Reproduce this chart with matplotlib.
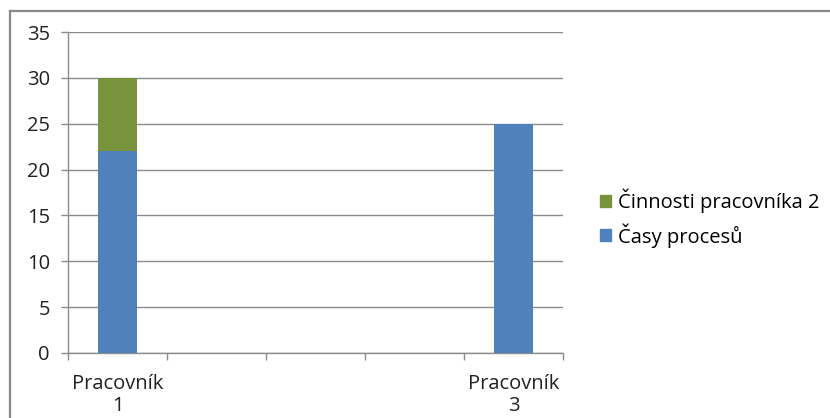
import matplotlib
matplotlib.use("Agg")
import matplotlib.pyplot as plt
from matplotlib.lines import Line2D
from matplotlib.patches import Patch
import numpy as np

plt.rcParams['font.family'] = ['Open Sans', 'DejaVu Sans']

categories = ["Pracovník\n1", "", "", "", "Pracovník\n3"]
casy_procesu = [22, 0, 0, 0, 25]
cinnosti_pracovnika_2 = [8, 0, 0, 0, 0]
series_names = ["Časy procesů", "Činnosti pracovníka 2"]
colors = ["#4F81BD", "#77933C"]
yticks = [0, 5, 10, 15, 20, 25, 30, 35]

W, H = 830, 418
FS = 14.5
fig = plt.figure(figsize=(W / 100, H / 100), dpi=100)
ax = fig.add_axes([68 / W, 1 - 353 / H, (563 - 68) / W, (353 - 32) / H])

x = np.arange(len(categories))
ax.bar(x, casy_procesu, width=0.39, color=colors[0], zorder=3)
ax.bar(x, cinnosti_pracovnika_2, width=0.39, bottom=casy_procesu,
       color=colors[1], zorder=3)

ax.set_xlim(-0.5, len(categories) - 0.5)
ax.set_ylim(0, 35)
ax.set_yticks(yticks)
ax.set_yticklabels([str(v) for v in yticks], fontsize=FS, color="#222222")
ax.yaxis.grid(True, color="#8c8c8c", linewidth=1.0, zorder=0)

ax.set_xticks(np.arange(-0.5, len(categories), 1.0))
ax.set_xticklabels([])
ax.set_xticks(x, minor=True)
ax.set_xticklabels(categories, minor=True, fontsize=FS, color="#222222",
                   linespacing=1.15)
ax.tick_params(axis='x', which='major', length=5, color="#8c8c8c", width=1)
ax.tick_params(axis='x', which='minor', length=0, pad=15)
ax.tick_params(axis='y', length=5, color="#8c8c8c", width=1, pad=8)

for s in ["top", "right"]:
    ax.spines[s].set_visible(False)
for s in ["left", "bottom"]:
    ax.spines[s].set_color("#8c8c8c")
    ax.spines[s].set_linewidth(1.0)

handles = [Patch(color=colors[1]), Patch(color=colors[0])]
labels = [series_names[1], series_names[0]]
fig.legend(handles, labels, loc="center left",
           bbox_to_anchor=(582 / W, 1 - 218 / H), frameon=False,
           fontsize=FS, handlelength=0.55, handleheight=0.55,
           handletextpad=0.35, labelspacing=0.5)

# chart frame lines
fig.add_artist(Line2D([9.5 / W, 9.5 / W], [0, 1 - 10.5 / H], color="#888888",
                      linewidth=1.6, transform=fig.transFigure))
fig.add_artist(Line2D([9.5 / W, 1], [1 - 10.5 / H, 1 - 10.5 / H], color="#888888",
                      linewidth=1.6, transform=fig.transFigure))

fig.savefig("out.png", dpi=100)
